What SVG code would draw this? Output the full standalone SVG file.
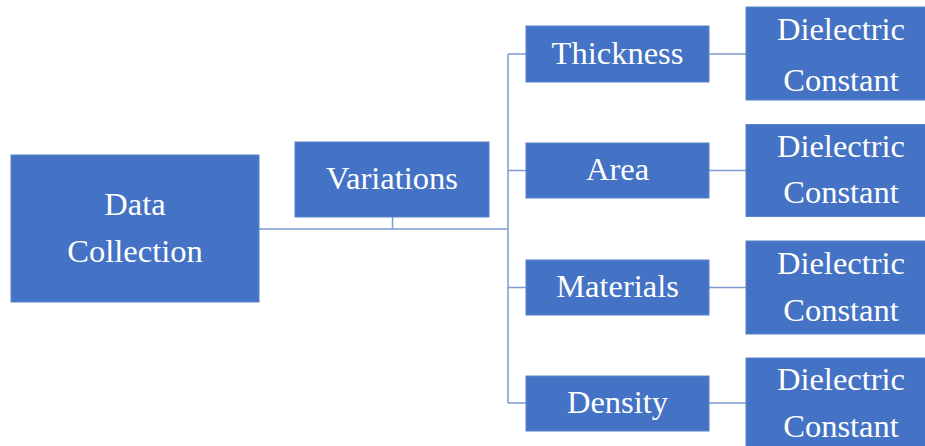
<svg xmlns="http://www.w3.org/2000/svg" width="925" height="446" viewBox="0 0 925 446">
<style>
.box{fill:#4472C4;stroke:#5B82CC;stroke-width:1}
.t{font-family:'Liberation Serif','Times New Roman',serif;font-size:32.5px;fill:#ffffff;text-anchor:middle}
.c{stroke:#7F9BD0;stroke-width:1.5;fill:none}
</style>
<rect width="925" height="446" fill="#ffffff"/>
<g id="connectors">
<path class="c" d="M259 229H508M392.5 217V229M508 54V403M508 54H526M508 170.5H526M508 287.5H526M508 403H526M709 54H746M709 170.5H746M709 287.5H746M709 403H746"/>
</g>
<g id="data-collection"><rect class="box" x="11" y="155" width="248" height="147"/><text class="t" x="135" y="215">Data</text><text class="t" x="135" y="261.5">Collection</text></g>
<g id="variations"><rect class="box" x="295" y="142" width="194" height="75"/><text class="t" x="392" y="189">Variations</text></g>
<g id="thickness"><rect class="box" x="526" y="26" width="183" height="56"/><text class="t" x="617.5" y="63.5">Thickness</text></g>
<g id="area"><rect class="box" x="526" y="143" width="183" height="55"/><text class="t" x="617.5" y="180">Area</text></g>
<g id="materials"><rect class="box" x="526" y="260" width="183" height="55"/><text class="t" x="617.5" y="296.5">Materials</text></g>
<g id="density"><rect class="box" x="526" y="376" width="183" height="55"/><text class="t" x="617.5" y="413">Density</text></g>
<g id="dielectric-1"><rect class="box" x="746" y="7" width="192" height="93"/><text class="t" x="841" y="39.5">Dielectric</text><text class="t" x="841" y="90.5">Constant</text></g>
<g id="dielectric-2"><rect class="box" x="746" y="124.5" width="192" height="92"/><text class="t" x="841" y="156.5">Dielectric</text><text class="t" x="841" y="202.5">Constant</text></g>
<g id="dielectric-3"><rect class="box" x="746" y="241" width="192" height="93"/><text class="t" x="841" y="274">Dielectric</text><text class="t" x="841" y="320.5">Constant</text></g>
<g id="dielectric-4"><rect class="box" x="746" y="358" width="192" height="100"/><text class="t" x="841" y="389.5">Dielectric</text><text class="t" x="841" y="437">Constant</text></g>
</svg>
